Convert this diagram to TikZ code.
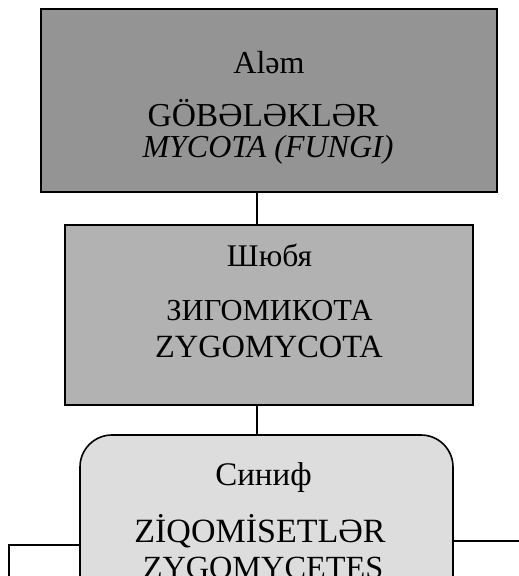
\documentclass[tikz,border=0pt]{standalone}
\usepackage{fontspec}
\setmainfont{Liberation Serif}
\newcommand{\fsz}[1]{\fontsize{#1}{#1}\selectfont}
\begin{document}
\begin{tikzpicture}[x=1pt,y=-1pt,
  boxline/.style={draw=black,line width=1.6pt},
  conn/.style={draw=black,line width=1.5pt},
  lbl/.style={inner sep=0pt,anchor=base}]
\useasboundingbox (0,0) rectangle (519,576);
\clip (0,0) rectangle (519,576);
\definecolor{gA}{gray}{0.58}
\definecolor{gB}{gray}{0.70}
\definecolor{gC}{gray}{0.865}
% boxes
\node[boxline,fill=gA,minimum width=456pt,minimum height=183pt,inner sep=0pt] (box1) at (269,100.5) {};
\node[boxline,fill=gB,minimum width=408pt,minimum height=180pt,inner sep=0pt] (box2) at (269,315) {};
\node[boxline,fill=gC,minimum width=373pt,minimum height=220pt,inner sep=0pt,rounded corners=32pt] (box3) at (266.5,545) {};
% texts
\node[lbl,font=\fsz{32}] (t1a) at (269,73) {Aləm};
\node[lbl,font=\fsz{33.5}] (t1b) at (263,126) {GÖBƏLƏKLƏR};
\node[lbl,font=\fsz{32}] (t1c) at (268,157) {\itshape MYCOTA (FUNGI)};
\node[lbl,font=\fsz{31.5}] (t2a) at (269.5,266) {Шюбя};
\node[lbl,font=\fsz{30.5}] (t2b) at (269.5,320) {ЗИГОМИКОТА};
\node[lbl,font=\fsz{32.4}] (t2c) at (269,357) {ZYGOMYCOTA};
\node[lbl,font=\fsz{33}] (t3a) at (263.5,485) {Синиф};
\node[lbl,font=\fsz{34}] (t3b) at (260,542) {ZİQOMİSETLƏR};
\node[lbl,font=\fsz{32.3}] (t3c) at (263,578) {ZYGOMYCETES};
% connectors
\draw[conn] ([xshift=-12pt]box1.south) -- ([xshift=-12pt]box2.north);
\draw[conn] ([xshift=-12pt]box2.south) -- ([xshift=-9.5pt]box3.north);
\coordinate (lcorner) at (9,545);
\coordinate (lend) at (9,600);
\coordinate (rend) at (530,541);
\draw[conn] (box3.west |- lcorner) -- (lcorner) -- (lend);
\draw[conn] (box3.east |- rend) -- (rend);
\end{tikzpicture}
\end{document}
